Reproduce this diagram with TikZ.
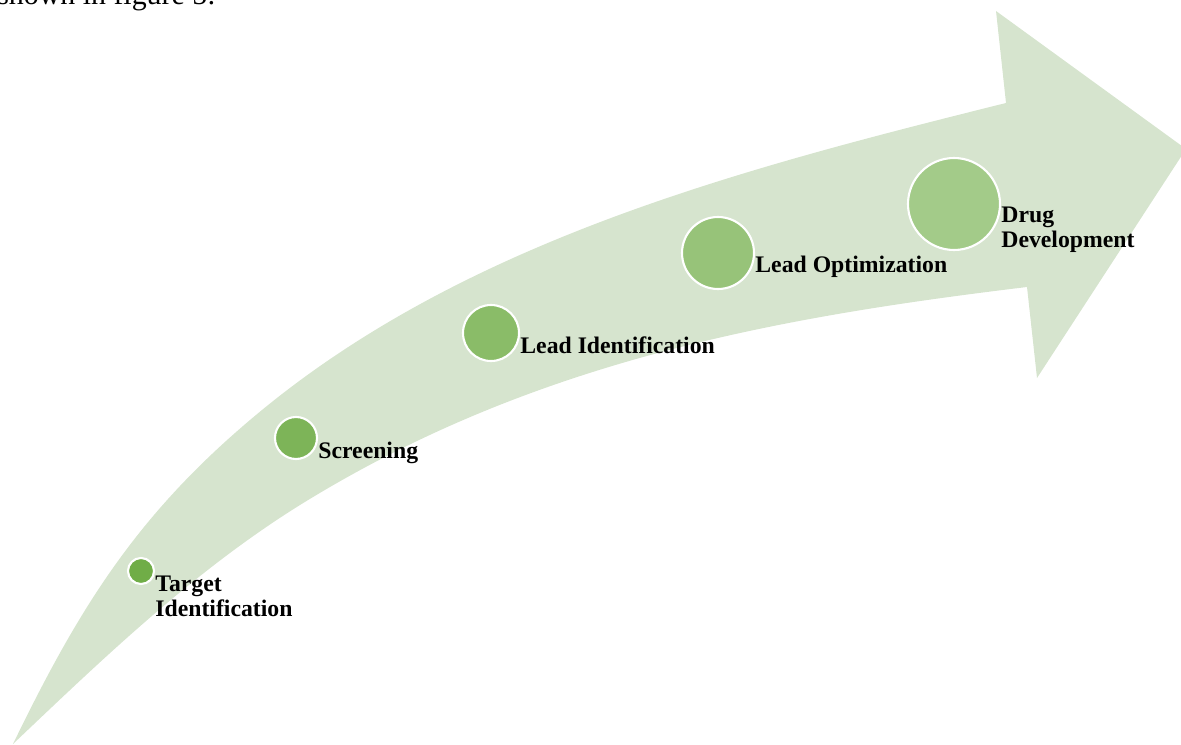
\documentclass[tikz,border=0pt]{standalone}
\usepackage{fontspec}
\setmainfont{Liberation Serif}
\usepackage{tikz}
\usetikzlibrary{
  calc,
  positioning
}
\definecolor{arrowgreen}{HTML}{D6E4CE}
\definecolor{dotgreen}{HTML}{70AD47}
\newcommand{\twolines}[2]{\begin{tabular}[t]{@{}l@{}}#1\\#2\end{tabular}}
\tikzset{
  stage dot/.style={
    circle, draw=white, line width=1.2pt,
    inner sep=0pt
  },
  stage label/.style={
    anchor=base west, inner sep=0pt,
    font=\fontsize{13.5}{14.4}\selectfont\bfseries
  },
}

\begin{document}
\begin{tikzpicture}

  \useasboundingbox (0, 0) rectangle (23.62, 14.88);
  \clip (0, 0) rectangle (23.62, 14.88);

  % Line of text running into the top edge
  \node[anchor=base west, inner sep=0pt, font=\fontsize{17}{20}\selectfont]
    (caption) at (-0.06, 14.78) {shown in figure 5:};

  % Curved arrow
  \fill[arrowgreen]
    (0.26, 0) .. controls (1.57, 2.70) and (2.71, 4.54) .. (5.00, 6.48)
    .. controls (9.19, 10.04) and (14.78, 11.49) .. (20.12, 12.82)
    -- (19.92, 14.66) -- (23.72, 11.90) -- (20.74, 7.32) -- (20.54, 9.14)
    .. controls (15.58, 8.54) and (10.68, 7.68) .. (6.00, 4.78)
    .. controls (3.88, 3.46) and (2.07, 1.72) .. (0.26, 0)
    -- cycle;

  % Stages
  \node[stage dot, fill=dotgreen, minimum size=0.52cm] (target) at (2.82, 3.46) {};
  \node[stage label] (targetlab) at ($(target.east)+(0,-0.40)$)
    {\twolines{Target}{Identification}};

  \node[stage dot, fill=dotgreen!91, minimum size=0.84cm] (screen) at (5.92, 6.12) {};
  \node[stage label] (screenlab) at ($(screen.east)+(0,-0.40)$) {Screening};

  \node[stage dot, fill=dotgreen!82, minimum size=1.12cm] (leadid) at (9.82, 8.22) {};
  \node[stage label] (leadidlab) at ($(leadid.east)+(0,-0.40)$) {Lead Identification};

  \node[stage dot, fill=dotgreen!73, minimum size=1.44cm] (leadopt) at (14.36, 9.82) {};
  \node[stage label] (leadoptlab) at ($(leadopt.east)+(0,-0.38)$) {Lead Optimization};

  \node[stage dot, fill=dotgreen!64, minimum size=1.84cm] (drug) at (19.08, 10.80) {};
  \node[stage label] (druglab) at ($(drug.east)+(0,-0.36)$)
    {\twolines{Drug}{Development}};

\end{tikzpicture}
\end{document}
